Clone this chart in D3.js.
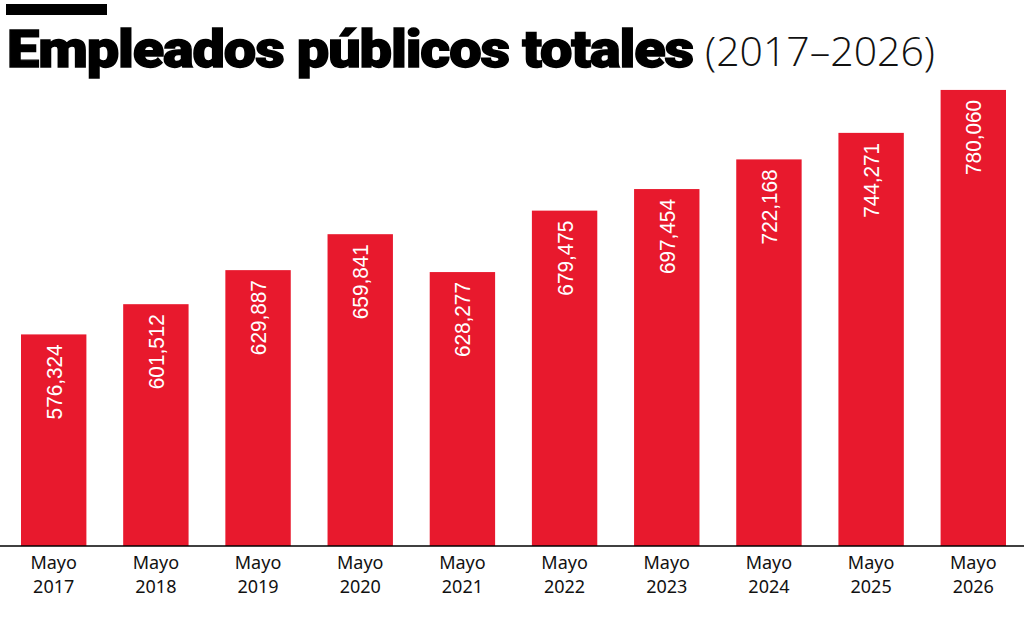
<!DOCTYPE html>
<html>
<head>
<meta charset="utf-8">
<script src="https://cdn.jsdelivr.net/npm/d3@7"></script>
<style>
  body { margin: 0; background: #fff; }
  svg { display: block; }
</style>
</head>
<body>
<div id="chart"></div>
<script>
// data
var years = ["2017","2018","2019","2020","2021","2022","2023","2024","2025","2026"];
var month_labels = ["Mayo","Mayo","Mayo","Mayo","Mayo","Mayo","Mayo","Mayo","Mayo","Mayo"];
var employees = [576324, 601512, 629887, 659841, 628277, 679475, 697454, 722168, 744271, 780060];

var width = 1024, height = 618;
var baseline = 546;

var svg = d3.select("#chart")
  .append("svg")
    .attr("width", width)
    .attr("height", height);

// title block
svg.append("rect")
  .attr("x", 6).attr("y", 4)
  .attr("width", 101).attr("height", 11)
  .attr("fill", "#000");

svg.append("text")
  .attr("x", 7).attr("y", 67)
  .attr("font-family", "Roboto, 'DejaVu Sans', sans-serif")
  .attr("font-weight", 900)
  .attr("font-size", 52)
  .attr("letter-spacing", -1)
  .attr("textLength", 686)
  .attr("lengthAdjust", "spacingAndGlyphs")
  .attr("fill", "#000")
  .attr("stroke", "#000")
  .attr("stroke-width", 1.4)
  .text("Empleados públicos totales");

svg.append("text")
  .attr("x", 705).attr("y", 66)
  .attr("font-family", "'Open Sans', 'Noto Sans', sans-serif")
  .attr("font-weight", 300)
  .attr("font-size", 41)
  .attr("textLength", 230)
  .attr("lengthAdjust", "spacingAndGlyphs")
  .attr("fill", "#111")
  .text("(2017–2026)");

var x = d3.scaleBand()
  .domain(years)
  .range([21, 1006])
  .paddingInner(0.36)
  .paddingOuter(0);

var y = d3.scaleLinear()
  .domain([400000, 800000])
  .range([baseline, 66]);

var rows = years.map(function(yr, i) {
  return {year: yr, month: month_labels[i], value: employees[i]};
});

svg.selectAll(".bar")
  .data(rows)
  .enter()
  .append("rect")
    .attr("class", "bar")
    .attr("x", function(d) { return x(d.year); })
    .attr("y", function(d) { return y(d.value); })
    .attr("width", x.bandwidth())
    .attr("height", function(d) { return baseline - y(d.value); })
    .attr("fill", "#E8192D");

// values, rotated inside the bar tops
svg.selectAll(".val")
  .data(rows)
  .enter()
  .append("text")
    .attr("class", "val")
    .attr("transform", function(d) {
      return "translate(" + (x(d.year) + x.bandwidth() / 2) + "," + (y(d.value) + 10) + ") rotate(-90)";
    })
    .attr("text-anchor", "end")
    .attr("dy", "0.36em")
    .attr("font-family", "'Liberation Sans', sans-serif")
    .attr("font-size", 22)
    .attr("textLength", 75)
    .attr("lengthAdjust", "spacingAndGlyphs")
    .attr("fill", "#fff")
    .text(function(d) { return d3.format(",")(d.value); });

// baseline
svg.append("line")
  .attr("x1", 0).attr("x2", width)
  .attr("y1", baseline).attr("y2", baseline)
  .attr("stroke", "#000")
  .attr("stroke-width", 1.5);

// category labels
var lab = svg.selectAll(".lab")
  .data(rows)
  .enter()
  .append("text")
    .attr("class", "lab")
    .attr("text-anchor", "middle")
    .attr("font-family", "'Noto Sans', sans-serif")
    .attr("font-size", 18)
    .attr("fill", "#111");

lab.append("tspan")
  .attr("x", function(d) { return x(d.year) + x.bandwidth() / 2; })
  .attr("y", 569)
  .text(function(d) { return d.month; });

lab.append("tspan")
  .attr("x", function(d) { return x(d.year) + x.bandwidth() / 2; })
  .attr("y", 593)
  .text(function(d) { return d.year; });
</script>
</body>
</html>
